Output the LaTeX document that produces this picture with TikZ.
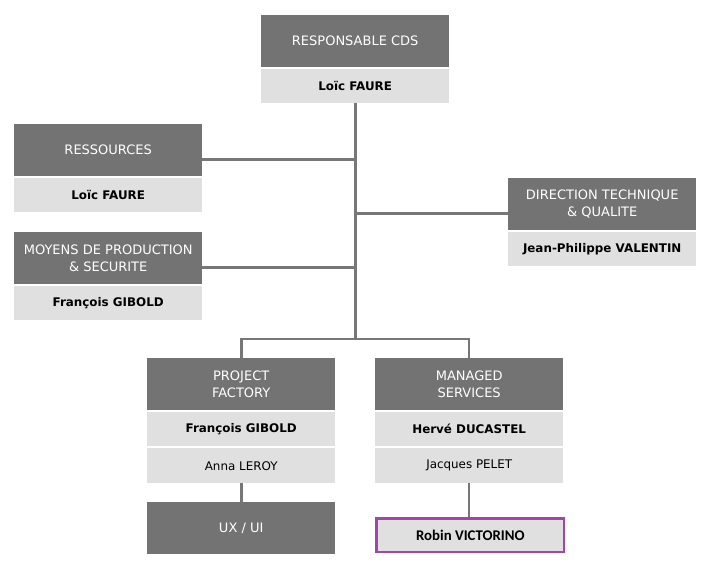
\documentclass[tikz,border=0pt]{standalone}
\usepackage{fontspec}
\setmainfont{DejaVu Sans}
\newfontfamily\calib{Carlito}
\definecolor{darkg}{HTML}{737373}
\definecolor{lightg}{HTML}{E0E0E0}
\definecolor{lineg}{HTML}{777777}
\definecolor{purp}{HTML}{A345A8}
\begin{document}
\begin{tikzpicture}[x=1pt,y=-1pt,
  darkbox/.style={fill=darkg,text=white,minimum width=188pt,minimum height=52pt,inner sep=0pt,align=center,anchor=north west,font=\fontsize{13}{16.7}\selectfont},
  lightbox/.style={fill=lightg,text=black,minimum width=188pt,minimum height=34pt,inner sep=0pt,align=center,anchor=north west,font=\fontsize{11.9}{14}\selectfont},
  conn/.style={draw=lineg,line width=2.8pt}]
\useasboundingbox (0,0) rectangle (712,566);
\fill[white] (0,0) rectangle (712,566);
% top
\node[darkbox] (d0) at (261,15) {RESPONSABLE CDS};
\node[lightbox] (l0) at (261,69) {\textbf{Loïc FAURE}};
% left
\node[darkbox] (d1) at (14,124) {RESSOURCES};
\node[lightbox] (l1) at (14,178) {\textbf{Loïc FAURE}};
\node[darkbox] (d2) at (14,232) {MOYENS DE PRODUCTION\\\& SECURITE};
\node[lightbox] (l2) at (14,286) {\textbf{François GIBOLD}};
% right
\node[darkbox] (d3) at (508,178) {DIRECTION TECHNIQUE\\\& QUALITE};
\node[lightbox] (l3) at (508,232) {\textbf{Jean-Philippe VALENTIN}};
% project factory
\node[darkbox] (d4) at (147,358) {PROJECT\\FACTORY};
\node[lightbox] (l4) at (147,412) {\textbf{François GIBOLD}};
\node[lightbox,minimum height=35pt] (m4) at (147,448) {Anna LEROY};
\node[darkbox] (u4) at (147,502) {UX / UI};
% managed services
\node[darkbox] (d5) at (375,358) {MANAGED\\SERVICES};
\node[lightbox] (l5) at (375,412) {\textbf{Hervé DUCASTEL}};
\node[lightbox,minimum height=35pt] (m5) at (375,448) {Jacques PELET};
\node[lightbox,draw=purp,line width=2.7pt,minimum width=187.3pt,minimum height=33.3pt,font=\calib\bfseries\fontsize{14.8}{16}\selectfont] (r5) at (375.35,517.35) {Robin VICTORINO};
% connectors
\coordinate (j) at (355.3,339);
\coordinate (jl) at (241.5,339);
\coordinate (jr) at (469,339);
\coordinate (c1) at ([yshift=-9.5pt]d1.east);
\coordinate (c2) at ([yshift=-9.5pt]d2.east);
\coordinate (c3) at ([yshift=-9.3pt]d3.west);
\coordinate (jl0) at ([xshift=-1.4pt]jl);
\coordinate (jr0) at ([xshift=1.4pt]jr);
\draw[conn] (l0.south -| j) -- (j);
\draw[conn] (c1) -- (j |- c1);
\draw[conn] (c2) -- (j |- c2);
\draw[conn] (c3) -- (j |- c3);
\draw[conn] (jl0) -- (jr0);
\draw[conn] (jl) -- (d4.north -| jl);
\draw[conn] (jr) -- (d5.north -| jr);
\draw[conn] (m4.south -| jl) -- (u4.north -| jl);
\draw[conn] (m5.south -| jr) -- (r5.north -| jr);
\end{tikzpicture}
\end{document}
